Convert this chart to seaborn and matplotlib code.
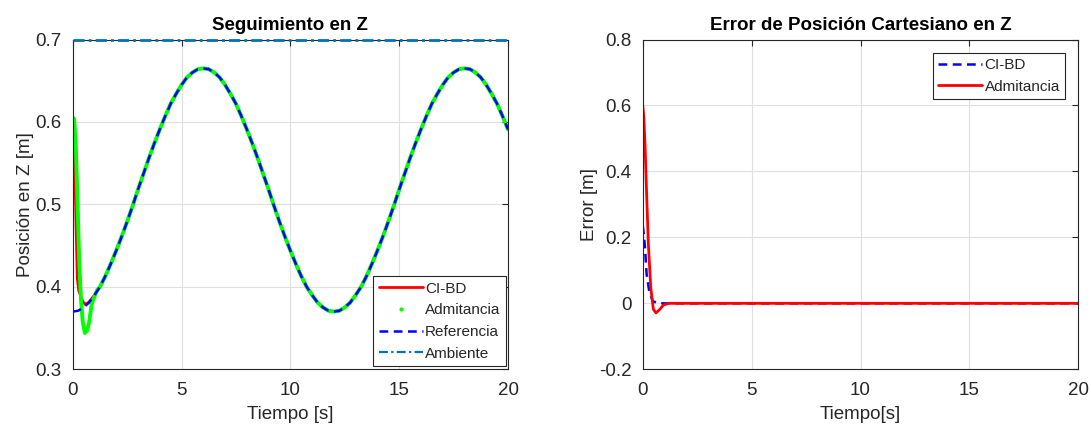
import numpy as np
import pandas as pd
import matplotlib
matplotlib.use("Agg")
import matplotlib.pyplot as plt
from matplotlib.lines import Line2D
import seaborn as sns

# ---- Seguimiento en Z: reference trajectory, sampled every 0.25 s ----
t_ref = list(np.linspace(0.0, 20.0, 81))
z_ref = [0.370, 0.371, 0.375, 0.381, 0.390, 0.400, 0.413, 0.428, 0.444,
         0.461, 0.479, 0.498, 0.518, 0.537, 0.556, 0.574, 0.591, 0.607,
         0.622, 0.634, 0.645, 0.654, 0.660, 0.664, 0.665, 0.664, 0.660,
         0.654, 0.645, 0.634, 0.622, 0.607, 0.591, 0.574, 0.556, 0.537,
         0.518, 0.498, 0.479, 0.461, 0.444, 0.428, 0.413, 0.400, 0.390,
         0.381, 0.375, 0.371, 0.370, 0.371, 0.375, 0.381, 0.390, 0.400,
         0.413, 0.428, 0.444, 0.461, 0.479, 0.498, 0.518, 0.537, 0.556,
         0.574, 0.591, 0.607, 0.622, 0.634, 0.645, 0.654, 0.660, 0.664,
         0.665, 0.664, 0.660, 0.654, 0.645, 0.634, 0.622, 0.607, 0.591]

# Start-up transients of each controller before they lock onto the reference
t_cibd_start = [0.0, 0.05, 0.10, 0.14, 0.21, 0.28, 0.34, 0.45, 0.56, 0.68, 0.79, 0.94]
z_cibd_start = [0.600, 0.590, 0.540, 0.492, 0.411, 0.395, 0.391, 0.383, 0.379, 0.380, 0.383, 0.388]

t_adm_start = [0.0, 0.06, 0.14, 0.21, 0.30, 0.38, 0.46, 0.56, 0.66, 0.76, 0.87, 1.1, 1.25]
z_adm_start = [0.605, 0.604, 0.574, 0.513, 0.431, 0.385, 0.358, 0.344, 0.347, 0.358, 0.379, 0.395, 0.400]

# Contact surface height
t_amb = [0.0, 20.0]
z_amb = [0.700, 0.700]

# ---- Error de posición cartesiano en Z ----
t_err_cibd = [0.0, 0.05, 0.105, 0.18, 0.30, 0.46, 0.70, 1.0, 1.7, 20.0]
e_err_cibd = [0.236, 0.210, 0.169, 0.088, 0.037, 0.007, 0.000, 0.000, 0.000, 0.000]

t_err_adm = [0.0, 0.05, 0.105, 0.18, 0.26, 0.37, 0.49, 0.61, 0.79, 0.95, 1.2, 20.0]
e_err_adm = [0.601, 0.565, 0.484, 0.332, 0.180, 0.047, -0.018, -0.029, -0.018, -0.005, 0.000, 0.000]

# Full time series: transient followed by the tracked reference
t_cibd = t_cibd_start + [t for t in t_ref if t >= 1.0]
z_cibd = z_cibd_start + [z for t, z in zip(t_ref, z_ref) if t >= 1.0]
t_adm = t_adm_start + [t for t in t_ref if t >= 1.5]
z_adm = z_adm_start + [z for t, z in zip(t_ref, z_ref) if t >= 1.5]

RED = "#FF0000"
GREEN = "#00FF00"
BLUE = "#0000FF"
AMB = "#0072BD"
TXT = "#262626"
DASH = (0, (3.5, 2.2))
DASHDOT = (0, (4, 1.5, 1, 1.5))

sns.set_theme(style="whitegrid")
plt.rcParams["font.family"] = ["Liberation Sans", "DejaVu Sans"]
plt.rcParams.update({
    "axes.edgecolor": TXT,
    "axes.linewidth": 0.8,
    "grid.color": "#dfdfdf",
    "grid.linewidth": 0.8,
    "xtick.color": TXT,
    "ytick.color": TXT,
    "axes.labelcolor": TXT,
})

fig = plt.figure(figsize=(10.91, 4.28), dpi=100)
W, H = 1091, 428
ax1 = fig.add_axes([72.7 / W, 1 - 369.3 / H, (508.0 - 72.7) / W, (369.3 - 39.5) / H])
ax2 = fig.add_axes([642.7 / W, 1 - 369.3 / H, (1078.3 - 642.7) / W, (369.3 - 39.5) / H])

# Left panel
sns.lineplot(x=t_cibd, y=z_cibd, ax=ax1, color=RED, linewidth=2.0, sort=False)
sns.lineplot(x=t_adm, y=z_adm, ax=ax1, color=GREEN, linewidth=2.8, sort=False)
sns.lineplot(x=t_ref, y=z_ref, ax=ax1, color=BLUE, linewidth=1.8,
             linestyle=DASH, sort=False)
sns.lineplot(x=t_amb, y=z_amb, ax=ax1, color=AMB, linewidth=2.0,
             linestyle=DASHDOT, sort=False, clip_on=False, zorder=5)

# Right panel
sns.lineplot(x=t_err_cibd, y=e_err_cibd, ax=ax2, color=BLUE, linewidth=1.8,
             linestyle=DASH, sort=False)
sns.lineplot(x=t_err_adm, y=e_err_adm, ax=ax2, color=RED, linewidth=2.0, sort=False)

FS = 13.5
for ax in (ax1, ax2):
    ax.set_xlim(0, 20)
    ax.set_xticks([0, 5, 10, 15, 20])
    ax.tick_params(axis="both", which="both", direction="in", length=4, width=0.8,
                   top=True, right=True, labelsize=FS)
    ax.tick_params(axis="y", pad=8)
    ax.tick_params(axis="x", pad=9)
    for s in ax.spines.values():
        s.set_visible(True)
        s.set_color(TXT)
        s.set_linewidth(0.8)
    ax.grid(True, color="#dfdfdf", linewidth=0.8)
    ax.set_axisbelow(True)

ax1.set_ylim(0.3, 0.7)
ax1.set_yticks([0.3, 0.4, 0.5, 0.6, 0.7])
ax1.set_yticklabels(["0.3", "0.4", "0.5", "0.6", "0.7"])
ax1.set_title("Seguimiento en Z", fontsize=FS, fontweight="bold", color="black", pad=7)
ax1.set_xlabel("Tiempo [s]", fontsize=FS, labelpad=5)
ax1.set_ylabel("Posición en Z [m]", fontsize=FS, labelpad=1)

ax2.set_ylim(-0.2, 0.8)
ax2.set_yticks([-0.2, 0, 0.2, 0.4, 0.6, 0.8])
ax2.set_yticklabels(["-0.2", "0", "0.2", "0.4", "0.6", "0.8"])
ax2.set_title("Error de Posición Cartesiano en Z", fontsize=FS, fontweight="bold",
              color="black", pad=7)
ax2.set_xlabel("Tiempo[s]", fontsize=FS, labelpad=5)
ax2.set_ylabel("Error [m]", fontsize=FS, labelpad=1)

leg_kw = dict(fontsize=11, frameon=True, fancybox=False, edgecolor=TXT,
              framealpha=1, borderpad=0.35, labelspacing=0.5, handlelength=2.9,
              handletextpad=0.15, borderaxespad=0.0)

h1 = [Line2D([], [], color=RED, linewidth=2.0),
      Line2D([], [], color=GREEN, linestyle="none", marker=".", markersize=4),
      Line2D([], [], color=BLUE, linewidth=1.8, linestyle=DASH),
      Line2D([], [], color=AMB, linewidth=1.6, linestyle=DASHDOT)]
lg1 = ax1.legend(h1, ["CI-BD", "Admitancia", "Referencia", "Ambiente"],
                 loc="lower right", bbox_to_anchor=(0.995, 0.01), **leg_kw)
lg1.get_frame().set_linewidth(0.8)

h2 = [Line2D([], [], color=BLUE, linewidth=1.8, linestyle=DASH),
      Line2D([], [], color=RED, linewidth=2.0)]
lg2 = ax2.legend(h2, ["CI-BD", "Admitancia"], loc="upper right",
                 bbox_to_anchor=(0.97, 0.96), **leg_kw)
lg2.get_frame().set_linewidth(0.8)

fig.savefig("out.png", dpi=100)
